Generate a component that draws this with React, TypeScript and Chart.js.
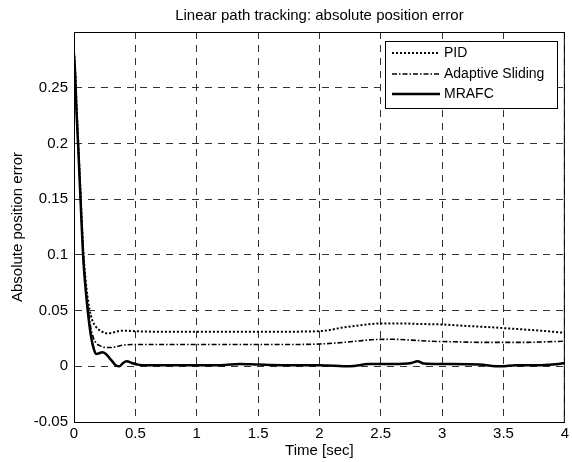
import React, { useEffect, useRef } from "react";
import { Chart, registerables } from "chart.js";

Chart.register(...registerables);

const chartTitle = "Linear path tracking: absolute position error";
const xAxisTitle = "Time [sec]";
const yAxisTitle = "Absolute position error";
const seriesNames = ["PID", "Adaptive Sliding", "MRAFC"];

const pidTime = [0, 0.01, 0.02, 0.035, 0.055, 0.075, 0.1, 0.125, 0.15, 0.175, 0.2, 0.23, 0.27, 0.31, 0.36, 0.42, 0.5, 0.7, 1.0, 1.3, 1.6, 1.9, 2.05, 2.2, 2.35, 2.5, 2.65, 2.8, 3.0, 3.2, 3.4, 3.6, 3.8, 4.0];
const pidError = [0.282, 0.265, 0.235, 0.2, 0.152, 0.105, 0.072, 0.052, 0.041, 0.036, 0.033, 0.031, 0.0295, 0.03, 0.0315, 0.032, 0.0315, 0.031, 0.031, 0.031, 0.031, 0.0312, 0.032, 0.035, 0.037, 0.0385, 0.0385, 0.038, 0.0375, 0.0362, 0.035, 0.0335, 0.032, 0.03];

const adaptiveTime = [0, 0.01, 0.02, 0.035, 0.055, 0.075, 0.1, 0.12, 0.14, 0.16, 0.18, 0.21, 0.25, 0.29, 0.34, 0.4, 0.5, 0.8, 1.1, 1.4, 1.7, 2.0, 2.15, 2.3, 2.45, 2.6, 2.75, 2.9, 3.1, 3.3, 3.5, 3.7, 3.85, 4.0];
const adaptiveError = [0.282, 0.262, 0.232, 0.197, 0.148, 0.1, 0.066, 0.047, 0.033, 0.025, 0.021, 0.0185, 0.017, 0.0168, 0.0175, 0.019, 0.0195, 0.0195, 0.0195, 0.0195, 0.0195, 0.02, 0.021, 0.0225, 0.024, 0.0242, 0.0235, 0.0225, 0.022, 0.0215, 0.0215, 0.0215, 0.022, 0.0225];

const mrafcTime = [0, 0.01, 0.02, 0.035, 0.055, 0.075, 0.1, 0.12, 0.14, 0.16, 0.18, 0.2, 0.23, 0.26, 0.3, 0.34, 0.37, 0.4, 0.43, 0.47, 0.52, 0.6, 0.9, 1.2, 1.35, 1.5, 1.7, 2.0, 2.25, 2.4, 2.6, 2.75, 2.8, 2.85, 3.0, 3.3, 3.48, 3.6, 3.8, 3.95, 4.0];
const mrafcError = [0.28, 0.26, 0.23, 0.195, 0.145, 0.098, 0.063, 0.042, 0.026, 0.016, 0.011, 0.0115, 0.0125, 0.011, 0.006, 0.001, 0.0, 0.003, 0.0045, 0.003, 0.0015, 0.001, 0.001, 0.001, 0.002, 0.0015, 0.001, 0.001, 0.0, 0.002, 0.002, 0.003, 0.0045, 0.0025, 0.002, 0.0015, 0.0, 0.001, 0.001, 0.002, 0.003];

const xMin = 0;
const xMax = 4;
const xStep = 0.5;
const yMin = -0.05;
const yMax = 0.3;
const yStep = 0.05;

const FONT = "'Liberation Sans', Arial, Helvetica, sans-serif";

const toPoints = (t: number[], v: number[]) => t.map((x, i) => ({ x, y: v[i] }));

const styles = [
  { width: 2, dash: [2, 2] },
  { width: 1.6, dash: [5, 2, 1.5, 2] },
  { width: 2.5, dash: [] as number[] },
];

const framePlugin = {
  id: "frame",
  afterDraw(chart: any) {
    const { ctx, chartArea } = chart;
    const { left, right, top, bottom } = chartArea;
    ctx.save();
    ctx.strokeStyle = "#000";
    ctx.lineWidth = 1;
    ctx.setLineDash([]);
    ctx.strokeRect(left + 0.5, top + 0.5, right - left - 1, bottom - top);
    ctx.fillStyle = "#000";
    ctx.font = `15px ${FONT}`;
    ctx.textAlign = "center";
    ctx.textBaseline = "alphabetic";
    ctx.fillText(chartTitle, (left + right) / 2, 20);
    const lx = 385, ly = 41, lw = 172, lh = 67;
    ctx.fillStyle = "#fff";
    ctx.fillRect(lx, ly, lw, lh);
    ctx.strokeStyle = "#000";
    ctx.lineWidth = 1;
    ctx.strokeRect(lx + 0.5, ly + 0.5, lw, lh);
    const rows = [53, 74, 94];
    seriesNames.forEach((name, i) => {
      const y = rows[i];
      ctx.beginPath();
      ctx.lineWidth = styles[i].width;
      ctx.setLineDash(styles[i].dash);
      ctx.strokeStyle = "#000";
      ctx.moveTo(392, y);
      ctx.lineTo(440, y);
      ctx.stroke();
      ctx.setLineDash([]);
      ctx.fillStyle = "#000";
      ctx.font = `14px ${FONT}`;
      ctx.textAlign = "left";
      ctx.textBaseline = "middle";
      ctx.fillText(name, 444, y + 0.5);
    });
    ctx.restore();
  },
};

export default function App() {
  const ref = useRef<HTMLCanvasElement | null>(null);
  useEffect(() => {
    if (!ref.current) return;
    const seriesData = [
      toPoints(pidTime, pidError),
      toPoints(adaptiveTime, adaptiveError),
      toPoints(mrafcTime, mrafcError),
    ];
    const chart = new Chart(ref.current, {
      type: "line",
      data: {
        datasets: seriesNames.map((name, i) => ({
          label: name,
          data: seriesData[i],
          borderColor: "#000",
          backgroundColor: "#000",
          borderWidth: styles[i].width,
          borderDash: styles[i].dash,
          pointRadius: 0,
          fill: false,
          cubicInterpolationMode: "monotone" as const,
        })),
      },
      options: {
        responsive: false,
        animation: false,
        layout: { padding: { top: 32, right: 5, bottom: 0, left: 0 } },
        plugins: {
          legend: { display: false },
          title: { display: false },
          tooltip: { enabled: false },
        },
        scales: {
          x: {
            type: "linear",
            min: xMin,
            max: xMax,
            afterFit: (s: any) => {
              s.height = 40;
            },
            ticks: {
              stepSize: xStep,
              color: "#000",
              font: { family: FONT, size: 15 },
              padding: 3,
              maxRotation: 0,
              callback: (v: any) => String(Number(Number(v).toFixed(2))),
            },
            grid: { color: "#333", lineWidth: 1, drawTicks: false },
            border: { display: true, color: "#000", width: 1, dash: [7, 6] },
            title: {
              display: true,
              text: xAxisTitle,
              color: "#000",
              font: { family: FONT, size: 15 },
              padding: { top: 0, bottom: 2 },
            },
          },
          y: {
            type: "linear",
            min: yMin,
            max: yMax,
            afterFit: (s: any) => {
              s.width = 74;
            },
            ticks: {
              stepSize: yStep,
              color: "#000",
              font: { family: FONT, size: 15 },
              padding: 6,
              callback: (v: any) => {
                const n = Number(Number(v).toFixed(2));
                if (Math.abs(n - yMax) < 1e-9) return "";
                return String(n);
              },
            },
            grid: { color: "#333", lineWidth: 1, drawTicks: false },
            border: { display: true, color: "#000", width: 1, dash: [7, 6] },
            title: {
              display: true,
              text: yAxisTitle,
              color: "#000",
              font: { family: FONT, size: 15 },
              padding: { top: 9, bottom: 0 },
            },
          },
        },
      },
      plugins: [framePlugin],
    });
    return () => chart.destroy();
  }, []);
  return (
    <div style={{ position: "absolute", left: 0, top: 0, width: 572, height: 462, background: "#fff" }}>
      <canvas ref={ref} width={572} height={462} />
    </div>
  );
}
